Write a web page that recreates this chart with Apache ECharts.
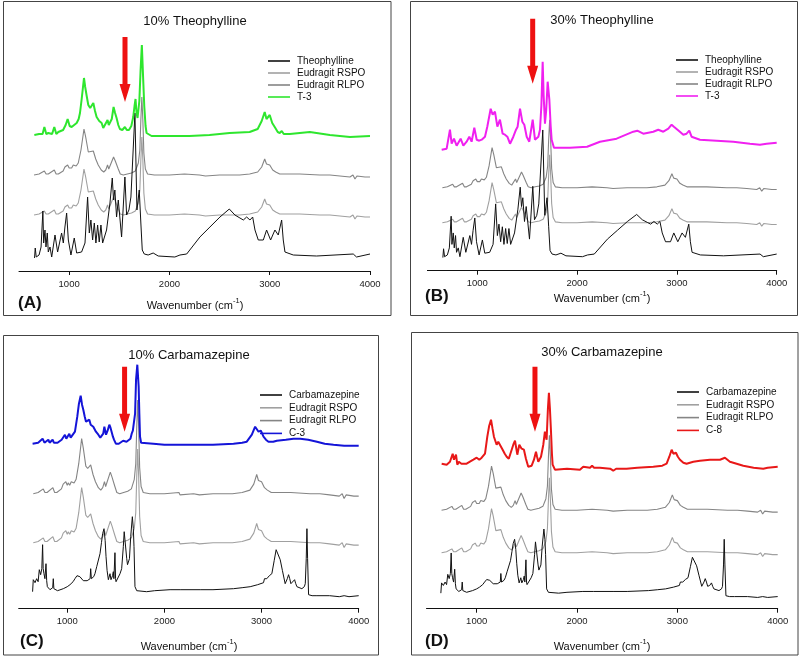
<!DOCTYPE html>
<html>
<head>
<meta charset="utf-8">
<script src="https://cdn.jsdelivr.net/npm/echarts@6.0.0/dist/echarts.min.js"></script>
<style>
html,body{margin:0;padding:0;background:#fff;}
#main{width:800px;height:657px;}
</style>
</head>
<body>
<div id="main"></div>
<script>
// ---------------- DATA (wavenumber cm-1, relative absorbance a.u.) ----------------
const xTicks = [1000, 2000, 3000, 4000];

const panelTitles = ['10% Theophylline', '30% Theophylline', '10% Carbamazepine', '30% Carbamazepine'];
const panelLetters = ['(A)', '(B)', '(C)', '(D)'];
const legendNames = [
  ['Theophylline', 'Eudragit RSPO', 'Eudragit RLPO', 'T-3'],
  ['Theophylline', 'Eudragit RSPO', 'Eudragit RLPO', 'T-3'],
  ['Carbamazepine', 'Eudragit RSPO', 'Eudragit RLPO', 'C-3'],
  ['Carbamazepine', 'Eudragit RSPO', 'Eudragit RLPO', 'C-8']
];

// pure Eudragit polymer spectrum (baseline-relative)
const eudragit = [[650,0],[700,1],[753,4],[770,1],[792,1],[852,5],[870,1],[892,1],[940,4],[958,8],[985,10],[1000,7],[1010,9],[1025,7],[1041,10],[1070,9],[1091,12],[1118,25],[1148,46],[1165,38],[1191,23],[1210,21],[1241,24],[1265,16],[1290,10],[1320,5],[1345,3],[1365,5],[1383,10],[1395,6],[1410,5],[1443,18],[1460,14],[1473,13],[1490,6],[1510,1],[1540,0],[1580,1],[1622,2],[1660,4],[1690,12],[1705,25],[1715,55],[1725,78],[1735,55],[1745,22],[1760,6],[1782,1],[1850,0],[2000,0],[2150,1],[2160,-1],[2300,0],[2360,-1],[2500,0],[2700,0],[2800,1],[2880,3],[2920,8],[2950,16],[2968,11],[2985,12],[3000,10],[3030,5],[3060,3],[3100,1],[3300,1],[3500,0],[3600,0],[3700,-1],[3800,-2],[3830,0],[3850,-4],[3870,-1],[3950,-2],[4000,-2]];

// pure theophylline spectrum (baseline-relative)
const theophylline = [[655,-1],[662,9],[672,0],[700,2],[720,10],[738,46],[746,14],[759,27],[769,10],[782,24],[792,5],[809,10],[826,0],[859,22],[885,5],[925,24],[942,14],[958,30],[975,44],[992,17],[1018,2],[1051,19],[1075,4],[1124,5],[1158,14],[1184,60],[1201,24],[1217,37],[1234,17],[1251,34],[1267,14],[1284,32],[1300,15],[1317,32],[1334,14],[1373,27],[1407,54],[1430,79],[1443,57],[1456,67],[1473,40],[1490,57],[1523,20],[1556,80],[1573,42],[1596,47],[1616,60],[1656,144],[1676,47],[1699,67],[1715,34],[1729,7],[1749,3],[1788,2],[1838,4],[1888,1],[2054,0],[2105,2],[2172,3],[2304,20],[2404,30],[2504,40],[2597,48],[2653,42],[2703,39],[2737,37],[2770,40],[2803,37],[2830,40],[2853,27],[2886,17],[2936,17],[2969,27],[3009,17],[3052,27],[3085,22],[3119,37],[3135,17],[3152,5],[3235,2],[3467,1],[3833,3],[3866,0],[4000,3]];

// pure carbamazepine spectrum
const carbamazepine = [[643,17],[650,29],[668,26],[685,30],[700,27],[712,39],[726,34],[738,40],[746,64],[752,40],[760,35],[770,30],[781,45],[788,28],[795,22],[810,20],[822,19],[850,21],[856,30],[862,20],[870,18],[900,18],[959,20],[1000,22],[1028,24],[1060,27],[1079,30],[1100,33],[1114,34],[1130,32],[1148,30],[1165,28],[1182,27],[1205,28],[1217,29],[1235,30],[1241,40],[1248,30],[1258,29],[1272,32],[1285,35],[1295,36],[1303,42],[1315,40],[1337,55],[1352,66],[1364,75],[1378,80],[1390,68],[1399,52],[1410,38],[1423,29],[1432,30],[1440,35],[1450,29],[1457,27],[1466,33],[1474,37],[1480,30],[1485,31],[1491,56],[1497,30],[1502,27],[1520,28],[1543,35],[1560,40],[1577,62],[1586,77],[1594,75],[1603,78],[1612,50],[1620,44],[1629,42],[1640,50],[1653,72],[1670,92],[1680,80],[1687,62],[1697,22],[1715,18],[1817,17],[1900,18],[2058,19],[2162,19],[2170,21],[2180,19],[2368,19],[2500,19],[2711,20],[2800,21],[2883,22],[2960,24],[3020,26],[3030,30],[3045,29],[3054,30],[3080,33],[3106,35],[3130,48],[3150,59],[3165,57],[3192,49],[3215,38],[3243,25],[3265,30],[3278,34],[3290,30],[3302,25],[3322,26],[3340,29],[3352,25],[3364,22],[3415,20],[3440,22],[3450,25],[3460,50],[3467,80],[3474,50],[3484,14],[3520,13],[3570,13],[3700,13],[3800,12],[3850,13],[3900,12],[4000,13]];

// formulation spectra (offset absorbance)
const t3Theo10 = [[653,136],[700,137],[735,137],[753,144],[772,137],[792,138],[830,137],[852,144],[872,137],[892,139],[940,141],[965,146],[985,152],[1005,145],[1025,144],[1050,146],[1075,148],[1095,152],[1108,158],[1125,172],[1148,193],[1160,184],[1175,175],[1191,166],[1210,163],[1241,168],[1258,160],[1274,154],[1300,150],[1324,148],[1340,143],[1357,143],[1383,151],[1395,146],[1407,144],[1425,152],[1443,164],[1458,158],[1473,153],[1490,146],[1506,142],[1530,141],[1556,144],[1575,141],[1596,141],[1620,145],[1639,154],[1652,165],[1662,172],[1672,158],[1682,153],[1700,170],[1712,200],[1725,226],[1737,195],[1749,165],[1762,145],[1772,138],[1822,135],[1900,135],[2000,135],[2200,135],[2400,136],[2600,138],[2800,139],[2880,142],[2920,150],[2950,159],[2968,152],[2985,154],[3000,156],[3025,148],[3050,144],[3080,139],[3100,138],[3120,140],[3140,137],[3200,137],[3400,139],[3600,136],[3800,134],[4000,135]];

const t3Theo30 = [[643,121],[693,122],[710,124],[726,141],[743,127],[766,132],[793,125],[833,132],[860,125],[893,129],[920,134],[943,129],[970,143],[994,131],[1020,130],[1044,131],[1077,134],[1100,144],[1134,162],[1154,156],[1177,159],[1201,144],[1227,151],[1254,137],[1277,136],[1301,134],[1328,127],[1361,134],[1388,141],[1404,144],[1428,162],[1451,149],[1471,146],[1495,134],[1521,129],[1555,151],[1578,131],[1612,134],[1628,141],[1642,165],[1655,209],[1665,175],[1678,147],[1690,160],[1705,189],[1722,171],[1735,145],[1745,131],[1768,123],[1929,123],[2100,124],[2229,129],[2396,132],[2563,139],[2603,140],[2663,137],[2713,138],[2763,139],[2813,141],[2864,139],[2914,142],[2947,146],[2970,144],[2990,146],[3030,139],[3064,136],[3097,137],[3124,140],[3147,134],[3231,131],[3398,130],[3565,129],[3732,127],[3832,126],[3850,124],[3899,127],[4000,128]];

const c3Carb10 = [[643,165],[700,166],[719,166],[746,170],[765,166],[781,167],[805,169],[818,166],[829,166],[849,169],[862,166],[873,165],[900,166],[942,169],[976,174],[990,170],[1000,170],[1021,175],[1035,171],[1045,172],[1079,177],[1103,192],[1120,205],[1138,213],[1152,204],[1165,199],[1180,192],[1193,187],[1210,186],[1227,189],[1241,184],[1255,183],[1268,182],[1295,177],[1320,174],[1340,171],[1354,169],[1370,175],[1382,182],[1392,177],[1399,174],[1415,178],[1433,184],[1445,181],[1457,179],[1470,172],[1481,169],[1500,165],[1509,164],[1530,165],[1550,166],[1575,168],[1594,170],[1610,167],[1629,165],[1650,170],[1663,175],[1675,178],[1687,180],[1698,195],[1708,229],[1721,244],[1735,222],[1742,195],[1749,172],[1760,166],[1776,164],[1886,165],[2000,164],[2230,164],[2367,164],[2500,164],[2711,165],[2800,166],[2848,167],[2900,174],[2934,182],[2951,183],[2969,177],[2993,178],[3020,172],[3045,169],[3071,167],[3120,167],[3157,168],[3250,169],[3329,170],[3398,170],[3480,169],[3570,167],[3650,165],[3741,164],[3850,163],[4000,163]];

const c8Carb30 = [[651,145],[701,144],[734,147],[761,155],[774,149],[794,154],[807,144],[822,147],[834,148],[848,145],[860,144],[900,145],[933,147],[967,149],[985,148],[1000,151],[1026,149],[1050,151],[1083,155],[1106,172],[1125,183],[1143,189],[1158,180],[1172,172],[1199,164],[1215,167],[1232,167],[1259,159],[1280,155],[1299,152],[1320,150],[1338,149],[1365,164],[1382,168],[1395,160],[1405,154],[1425,164],[1448,160],[1458,159],[1471,159],[1491,150],[1514,142],[1548,143],[1571,149],[1591,157],[1602,152],[1614,147],[1641,152],[1664,164],[1680,177],[1690,172],[1697,169],[1710,200],[1720,216],[1730,200],[1740,179],[1750,155],[1757,144],[1780,139],[1900,140],[2029,139],[2062,142],[2130,141],[2150,143],[2170,141],[2228,141],[2330,140],[2361,138],[2390,140],[2494,140],[2600,141],[2760,142],[2850,143],[2893,145],[2920,152],[2943,159],[2960,155],[2986,156],[3005,152],[3026,149],[3060,146],[3092,145],[3159,147],[3225,148],[3325,149],[3425,149],[3474,151],[3524,147],[3657,143],[3760,141],[3856,140],[3870,138],[3900,141],[4000,142]];

// stacking: [scale, offset] of each pure spectrum in each panel
const drugStack = [[1, 14], [0.88, 14], [1, 0], [0.855, 1]];
const rspoStack = [[1, 56], [0.87, 48], [1.2, 66], [0.96, 56]];
const rlpoStack = [[1, 96], [0.87, 83], [1.2, 115], [0.96, 98.5]];

// red arrows: [wavenumber, top, tip]
const arrows = [[1557, 234, 169], [1555, 252, 187], [1590, 242, 177], [1581, 242, 177]];

// ---------------- CHART ----------------
const FONT = 'Liberation Sans, Arial, Helvetica, sans-serif';
const drugSpectra = [theophylline, theophylline, carbamazepine, carbamazepine];
const formulations = [t3Theo10, t3Theo30, c3Carb10, c8Carb30];
const compColors = ['#2ee62e', '#f020f0', '#1414d8', '#e81818'];
const ids = ['A', 'B', 'C', 'D'];

const grids = [
  {left: 19, top: 21, width: 351, height: 250},
  {left: 427.4, top: 20.7, width: 349.3, height: 250},
  {left: 18.7, top: 358.7, width: 340, height: 250},
  {left: 426.5, top: 358.7, width: 351.2, height: 250}
];
const legendPos = [
  {left: 268, top: 56, itemGap: 2},
  {left: 676, top: 55, itemGap: 2},
  {left: 260, top: 390, itemGap: 2.8},
  {left: 677, top: 387, itemGap: 2.8}
];

function place(shape, st) {
  return shape.map(p => [p[0], p[1] * st[0] + st[1]]);
}

const xAxes = [], yAxes = [], series = [], legends = [];
for (let i = 0; i < 4; i++) {
  xAxes.push({
    gridIndex: i, type: 'value', min: 500, max: 4000,
    axisLine: {show: true, onZero: false, lineStyle: {color: '#111', width: 1}},
    axisTick: {show: true, length: 4, customValues: xTicks, lineStyle: {color: '#111'}},
    axisLabel: {customValues: xTicks, fontSize: 9.5, color: '#222', margin: 8, fontFamily: FONT,
      formatter: v => String(v)},
    splitLine: {show: false}
  });
  yAxes.push({gridIndex: i, type: 'value', min: 0, max: 250, show: false});
  const nm = legendNames[i].map(n => ids[i] + ':' + n);
  const common = {type: 'line', xAxisIndex: i, yAxisIndex: i, symbol: 'none', silent: true, animation: false};
  series.push(Object.assign({}, common, {name: nm[1], data: place(eudragit, rspoStack[i]), lineStyle: {color: '#a0a0a0', width: 1.1}, itemStyle: {color: '#a0a0a0'}}));
  series.push(Object.assign({}, common, {name: nm[2], data: place(eudragit, rlpoStack[i]), lineStyle: {color: '#858585', width: 1.1}, itemStyle: {color: '#858585'}}));
  series.push(Object.assign({}, common, {name: nm[0], data: place(drugSpectra[i], drugStack[i]), lineStyle: {color: '#111', width: 1}, itemStyle: {color: '#111'}}));
  series.push(Object.assign({}, common, {name: nm[3], data: formulations[i], lineStyle: {color: compColors[i], width: 2}, itemStyle: {color: compColors[i]}}));
  legends.push({
    orient: 'vertical', left: legendPos[i].left, top: legendPos[i].top, itemGap: legendPos[i].itemGap,
    itemWidth: 22, itemHeight: 1.6, icon: 'rect', selectedMode: false, padding: 0,
    textStyle: {fontSize: 10, color: '#111', fontFamily: FONT, padding: [0, 0, 0, 2]},
    data: nm, formatter: n => n.slice(2)
  });
}

const chart = echarts.init(document.getElementById('main'), null, {renderer: 'canvas'});
chart.setOption({
  backgroundColor: '#fff',
  animation: false,
  grid: grids,
  xAxis: xAxes,
  yAxis: yAxes,
  legend: legends,
  series: series
});

// annotations
const boxes = [
  {x: 3.5, y: 1.5, width: 387.5, height: 314},
  {x: 410.5, y: 1.5, width: 387, height: 314},
  {x: 3.5, y: 335.5, width: 375, height: 319.5},
  {x: 411.5, y: 332.5, width: 386.5, height: 322.5}
];
const titlePos = [[195, 21], [602, 20], [189, 355], [602, 352]];
const letterPos = [[18, 303], [425, 296], [20, 641], [425, 641]];
const namePos = [[195, 304], [602, 297], [189, 645], [602, 645]];

const graphics = [];
for (let i = 0; i < 4; i++) {
  graphics.push({type: 'rect', shape: boxes[i], style: {fill: 'none', stroke: '#444', lineWidth: 1}, silent: true});
  graphics.push({type: 'text', x: titlePos[i][0], y: titlePos[i][1], silent: true,
    style: {text: panelTitles[i], font: '13px ' + FONT, fill: '#111', align: 'center', verticalAlign: 'middle'}});
  graphics.push({type: 'text', x: letterPos[i][0], y: letterPos[i][1], silent: true,
    style: {text: panelLetters[i], font: 'bold 17px ' + FONT, fill: '#111', align: 'left', verticalAlign: 'middle'}});
  graphics.push({type: 'text', x: namePos[i][0], y: namePos[i][1], silent: true,
    style: {text: '{b|Wavenumber (cm}{sup|-1}{b|)}', fill: '#111', align: 'center', verticalAlign: 'middle',
      rich: {
        b: {fontSize: 11, fontFamily: FONT, lineHeight: 14, verticalAlign: 'bottom', fill: '#111'},
        sup: {fontSize: 7.5, fontFamily: FONT, lineHeight: 14, verticalAlign: 'top', fill: '#111', padding: [0, 0, 6, 0]}
      }}});
  const a = arrows[i];
  const top = chart.convertToPixel({gridIndex: i}, [a[0], a[1]]);
  const tip = chart.convertToPixel({gridIndex: i}, [a[0], a[2]]);
  const cx = top[0], ty = top[1], py = tip[1];
  graphics.push({type: 'polygon', silent: true, z: 100,
    shape: {points: [[cx - 2.5, ty], [cx + 2.5, ty], [cx + 2.5, py - 18], [cx + 5.5, py - 18], [cx, py], [cx - 5.5, py - 18], [cx - 2.5, py - 18]]},
    style: {fill: '#ee1111'}});
}
chart.setOption({graphic: graphics});
</script>
</body>
</html>
